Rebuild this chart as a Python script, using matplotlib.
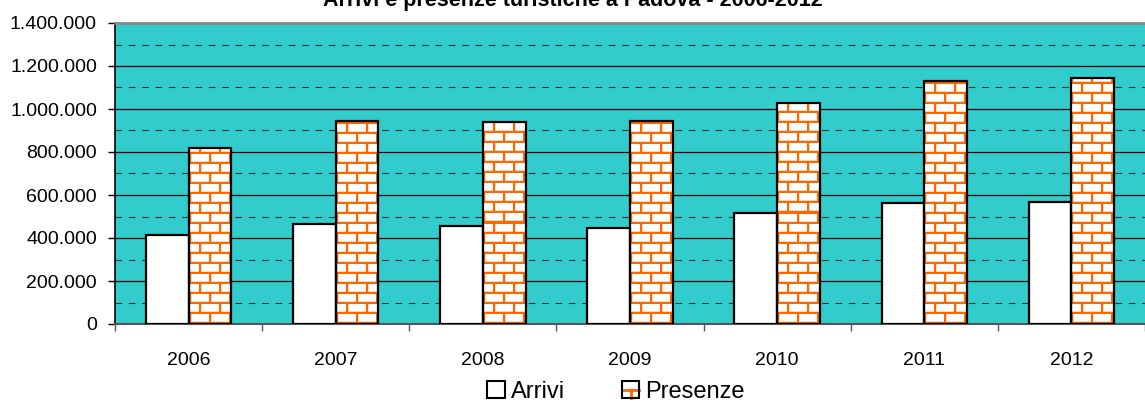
import numpy as np
import matplotlib.pyplot as plt
from matplotlib.patches import Rectangle
from matplotlib.lines import Line2D
from matplotlib.legend_handler import HandlerBase
from matplotlib.ticker import MultipleLocator, FuncFormatter

plt.rcParams['font.family'] = ['Liberation Sans', 'DejaVu Sans']

# dati: arrivi e presenze turistiche a Padova
anni = ["2006", "2007", "2008", "2009", "2010", "2011", "2012"]
arrivi = [414000, 465000, 456000, 447000, 516000, 563000, 567000]
presenze = [818000, 944000, 940000, 944000, 1028000, 1130000, 1144000]

TEAL = "#33CCCC"
ORANGE = (1.0, 0.4, 0.0)
PALE = (1.0, 0.85, 0.72)


def brick_texture(w, h, row=10, brick=20):
    # motivo a mattoni: bianco con fughe arancioni
    img = np.ones((h, w, 3))
    yy, xx = np.mgrid[0:h, 0:w]
    ry = yy % row
    offset = ((yy // row) % 2) * (brick // 2)
    rx = (xx + offset) % brick
    mortar = (ry < 2) | ((rx < 2) & (ry >= 2))
    fringe = (ry == 2) | (rx == 2)
    img[fringe & ~mortar] = PALE
    img[mortar] = ORANGE
    return img


class BrickHandler(HandlerBase):
    def create_artists(self, legend, orig, xd, yd, w, h, fontsize, trans):
        x0, y0 = -xd, -yd
        bg = Rectangle((x0, y0), w, h, fc="white", ec="none", transform=trans)
        hl = Line2D([x0, x0 + w], [y0 + h * 0.5] * 2, color=ORANGE, lw=2,
                    transform=trans)
        vl = Line2D([x0 + w * 0.55] * 2, [y0, y0 + h * 0.5], color=ORANGE, lw=2,
                    transform=trans)
        border = Rectangle((x0, y0), w, h, fc="none", ec="black", lw=1.5,
                           transform=trans)
        return [bg, hl, vl, border]


fig = plt.figure(figsize=(11.45, 4.03), dpi=100)
ax = fig.add_axes([115 / 1145, 79 / 403, 1030 / 1145, 301 / 403])
ax.set_facecolor(TEAL)

x = np.arange(len(anni))
bw = 0.29
ax.set_xlim(-0.5, len(anni) - 0.5)
ax.set_ylim(0, 1400000)

ax.bar(x - bw / 2, arrivi, bw, color="white", edgecolor="black", lw=1.6, zorder=3)
bars = ax.bar(x + bw / 2, presenze, bw, facecolor="none", edgecolor="black",
              lw=1.6, zorder=3)

# riempimento a mattoni per le presenze
for b in bars:
    bx0, bx1 = b.get_x(), b.get_x() + b.get_width()
    p0 = ax.transData.transform((bx0, 0))
    p1 = ax.transData.transform((bx1, b.get_height()))
    w_px = max(int(round(p1[0] - p0[0])), 1)
    h_px = max(int(round(p1[1] - p0[1])), 1)
    im = ax.imshow(brick_texture(w_px, h_px), extent=(bx0, bx1, 0, b.get_height()),
                   origin="lower", interpolation="nearest", aspect="auto", zorder=2.5)
    im.set_clip_path(b)

ax.set_xlim(-0.5, len(anni) - 0.5)
ax.set_ylim(0, 1400000)

ax.yaxis.set_major_locator(MultipleLocator(200000))
ax.yaxis.set_minor_locator(MultipleLocator(100000))
ax.yaxis.set_major_formatter(FuncFormatter(lambda v, p: f"{int(v):,}".replace(",", ".")))
ax.grid(True, which="major", axis="y", color="black", lw=0.9, zorder=1)
ax.grid(True, which="minor", axis="y", color="#1a3333", lw=0.8, ls=(0, (6, 6)), zorder=1)
ax.set_axisbelow(True)

ax.set_xticks(np.arange(len(anni) + 1) - 0.5, minor=False)
ax.set_xticklabels([])
ax.set_xticks(x, minor=True)
ax.set_xticklabels(anni, minor=True)
ax.tick_params(axis="x", which="major", length=5, width=1, color="#555555", direction="out")
ax.tick_params(axis="x", which="minor", length=0, pad=20, labelsize=14)
ax.tick_params(axis="y", which="major", length=5, width=1, direction="out", pad=8,
               labelsize=14)
ax.tick_params(axis="y", which="minor", length=0)

ax.spines["right"].set_visible(False)
ax.spines["top"].set_color("#888888")
ax.spines["top"].set_linewidth(2)
ax.spines["bottom"].set_color("#555555")
ax.spines["bottom"].set_linewidth(1.5)
ax.spines["left"].set_linewidth(1.2)

# titolo tagliato in alto come nell'originale
fig.text(0.5, 1 - 6 / 403, "Arrivi e presenze turistiche a Padova - 2006-2012",
         ha="center", va="baseline", fontsize=15.5, fontweight="bold")

h_arr = Rectangle((0, 0), 1, 1, fc="white", ec="black", lw=1.5)
h_pre = Rectangle((0, 0), 1, 1, fc="white", ec="black")
fig.legend([h_arr, h_pre], ["Arrivi", "Presenze"], loc="center",
           bbox_to_anchor=(616 / 1145, 1 - 392 / 403), ncol=2, frameon=False,
           fontsize=17, handlelength=0.75, handleheight=0.75, handletextpad=0.25,
           columnspacing=2.4, borderpad=0,
           handler_map={h_pre: BrickHandler()})

fig.savefig("out.png", dpi=100)
